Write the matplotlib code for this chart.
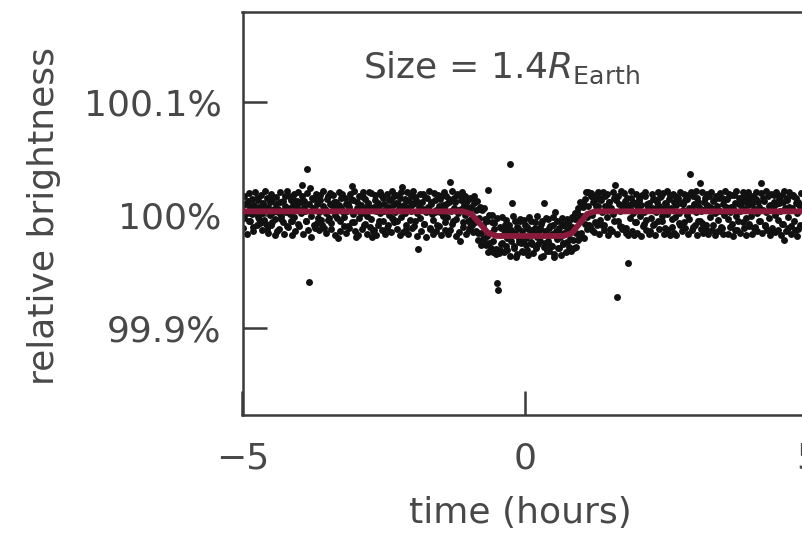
import matplotlib
matplotlib.use("Agg")
import matplotlib.pyplot as plt

# observation times, in hundredths of an hour from mid-transit (first pass)
time_cs = [
    -500, -498, -496, -493, -491, -489, -487, -484, -482, -480, -478, -475, -473, -471, -469, -466, -464, -462, -460, -457,
    -455, -452, -450, -448, -446, -443, -441, -439, -437, -434, -432, -430, -428, -425, -423, -421, -419, -416, -414, -412,
    -410, -408, -405, -403, -401, -399, -396, -394, -392, -389, -387, -385, -383, -380, -378, -376, -373, -371, -369, -367,
    -365, -363, -361, -358, -356, -354, -352, -349, -347, -345, -343, -340, -338, -336, -334, -331, -329, -327, -325, -322,
    -320, -317, -315, -313, -311, -308, -306, -304, -302, -299, -297, -295, -293, -290, -288, -286, -284, -281, -279, -277,
    -275, -273, -270, -268, -266, -264, -261, -259, -257, -254, -252, -250, -248, -245, -243, -241, -238, -236, -234, -232,
    -230, -228, -226, -223, -221, -219, -217, -214, -212, -210, -208, -205, -203, -201, -199, -196, -194, -192, -190, -187,
    -185, -182, -180, -178, -176, -173, -171, -169, -167, -164, -162, -160, -158, -155, -153, -151, -149, -146, -144, -142,
    -140, -138, -135, -133, -131, -129, -126, -124, -122, -119, -117, -115, -113, -110, -108, -106, -103, -101, -99, -97,
    -95, -93, -91, -88, -86, -84, -82, -79, -77, -75, -73, -70, -68, -66, -64, -61, -59, -57, -55, -52,
    -50, -47, -45, -43, -41, -38, -36, -34, -32, -29, -27, -25, -23, -20, -18, -16, -14, -11, -9, -7,
    -5, -3, 0, 2, 4, 6, 9, 11, 13, 16, 18, 20, 22, 25, 27, 29, 32, 34, 36, 38,
    40, 42, 44, 47, 49, 51, 53, 56, 58, 60, 62, 65, 67, 69, 71, 74, 76, 78, 80, 83,
    85, 88, 90, 92, 94, 97, 99, 101, 103, 106, 108, 110, 112, 115, 117, 119, 121, 124, 126, 128,
    130, 132, 135, 137, 139, 141, 144, 146, 148, 151, 153, 155, 157, 160, 162, 164, 167, 169, 171, 173,
    175, 177, 179, 182, 184, 186, 188, 191, 193, 195, 197, 200, 202, 204, 206, 209, 211, 213, 215, 218,
    220, 223, 225, 227, 229, 232, 234, 236, 238, 241, 243, 245, 247, 250, 252, 254, 256, 259, 261, 263,
    265, 267, 270, 272, 274, 276, 279, 281, 283, 286, 288, 290, 292, 295, 297, 299, 302, 304, 306, 308,
    310, 312, 314, 317, 319, 321, 323, 326, 328, 330, 332, 335, 337, 339, 341, 344, 346, 348, 350, 353,
    355, 358, 360, 362, 364, 367, 369, 371, 373, 376, 378, 380, 382, 385, 387, 389, 391, 394, 396, 398,
    400, 402, 405, 407, 409, 411, 414, 416, 418, 421, 423, 425, 427, 430, 432, 434, 437, 439, 441, 443,
    445, 447, 449, 452, 454, 456, 458, 461, 463, 465, 467, 470, 472, 474, 476, 479, 481, 483, 485, 488,
]

# brightness offset from 100%, in parts per million (first pass)
flux_ppm = [
    40, -35, 95, 10, 120, -60, 55, 5, -110, 80, 30, 150, -20, 65, -75, 15, 100, -45, 45, -130,
    70, 0, -90, 135, 25, -40, 90, -150, 50, 110, -15, 35, -70, 160, 20, -105, 60, 5, 125, -55,
    85, -25, 45, 120, -80, 115, 15, 261, 70, 30, -60, 403, -597, 235, -10, 140, -95, 40, 95, -35,
    20, 130, -45, 75, -120, 50, 10, 165, -30, 95, -75, 40, 110, -5, 60, -208, 85, -60, 145, 25,
    -20, 90, 35, -100, 70, 140, 252, 5, -65, -199, 115, 45, -35, 80, 10, 155, -85, 60, -10, 100,
    55, -40, -199, -137, 125, 30, -90, 75, 15, 170, -55, 95, 40, -115, 65, 0, 135, -30, 85, -70,
    20, 105, -60, 50, 145, -25, 243, 80, 10, -130, 60, 120, -45, 35, 90, -100, 155, 15, -305, 70,
    -35, 110, 45, -80, 20, 150, 65, -120, 95, 5, -50, 130, 40, -95, 75, 25, 165, -15, 60, -140,
    90, -20, 140, 288, 35, -85, 60, 110, -40, 15, 170, -235, 50, -70, 80, -5, 120, -60, 30, -110,
    65, -97, 102, -65, 39, -167, -29, 64, -167, -89, -220, -42, -188, 217, -252, -162, -70, -238, -127, -307,
    -606, -668, -314, -120, -250, -170, -95, -280, -210, -140, 447, -230, 102, -300, -165, -376, -110, -215, -60, -255,
    -150, -240, -95, -205, -310, -130, -185, -60, -260, -175, -115, -290, -200, -140, -230, -85, -367, 102, -250, -160,
    -230, -120, -270, -175, -90, -376, 22, -215, -145, -300, -195, -80, -250, -160, -105, -240, -130, -60, -215, -110,
    -222, -43, -161, 22, -226, -17, -164, -17, 101, -80, 199, -25, 78, -104, 166, -1, 107, -62, 73, 138,
    75, -50, 130, 20, -95, 160, 45, -25, 110, -130, 55, 5, 145, 261, -730, -60, 90, 30, -110, 65,
    40, 120, -164, -429, 85, -35, 150, 10, -177, 95, -70, 60, 130, -15, 80, -100, 25, 165, -45, 70,
    100, -30, 55, 140, -85, 20, 115, -55, 75, 160, -10, 45, -120, 95, 5, 135, -181, 60, -40, 110,
    -25, 80, 150, 15, -90, 105, 40, -65, 125, 0, 170, -40, 358, 55, -110, 90, 20, 145, -60, 70,
    279, 30, -75, 115, 50, -130, 85, 160, -20, 60, -95, 130, 10, 75, -50, 145, 35, -115, 95, 0,
    65, 140, -40, 20, 175, -85, 55, 105, -10, -140, 90, 30, 150, -65, 45, 120, -30, 80, -100, 160,
    -15, 95, 50, -110, 135, 10, 70, -55, 279, 40, 120, -90, 25, 165, -35, 85, -140, 60, 110, -5,
    90, -45, 135, 30, -80, 115, -226, 55, 150, -20, 70, -105, 40, 160, -60, 100, 15, -130, 85, 45,
]

# second pass of observations, interleaved with the first
time_cs_b = [
    -499, -497, -495, -492, -490, -488, -486, -483, -481, -479, -477, -474, -472, -470, -468, -465, -463, -461, -459, -456,
    -454, -451, -449, -447, -445, -442, -440, -438, -436, -433, -431, -429, -427, -424, -422, -420, -418, -415, -413, -411,
    -409, -407, -404, -402, -400, -398, -395, -393, -391, -388, -386, -384, -382, -379, -377, -375, -372, -370, -368, -366,
    -364, -362, -360, -357, -355, -353, -351, -348, -346, -344, -342, -339, -337, -335, -333, -330, -328, -326, -324, -321,
    -319, -316, -314, -312, -310, -307, -305, -303, -301, -298, -296, -294, -292, -289, -287, -285, -283, -280, -278, -276,
    -274, -272, -269, -267, -265, -263, -260, -258, -256, -253, -251, -249, -247, -244, -242, -240, -237, -235, -233, -231,
    -229, -227, -225, -222, -220, -218, -216, -213, -211, -209, -207, -204, -202, -200, -198, -195, -193, -191, -189, -186,
    -184, -181, -179, -177, -175, -172, -170, -168, -166, -163, -161, -159, -157, -154, -152, -150, -148, -145, -143, -141,
    -139, -137, -134, -132, -130, -128, -125, -123, -121, -118, -116, -114, -112, -109, -107, -105, -102, -100, -98, -96,
    -94, -92, -90, -87, -85, -83, -81, -78, -76, -74, -72, -69, -67, -65, -63, -60, -58, -56, -54, -51,
    -49, -46, -44, -42, -40, -37, -35, -33, -31, -28, -26, -24, -22, -19, -17, -15, -13, -10, -8, -6,
    -4, -2, 1, 3, 5, 7, 10, 12, 14, 17, 19, 21, 23, 26, 28, 30, 33, 35, 37, 39,
    41, 43, 45, 48, 50, 52, 54, 57, 59, 61, 63, 66, 68, 70, 72, 75, 77, 79, 81, 84,
    86, 89, 91, 93, 95, 98, 100, 102, 104, 107, 109, 111, 113, 116, 118, 120, 122, 125, 127, 129,
    131, 133, 136, 138, 140, 142, 145, 147, 149, 152, 154, 156, 158, 161, 163, 165, 168, 170, 172, 174,
    176, 178, 180, 183, 185, 187, 189, 192, 194, 196, 198, 201, 203, 205, 207, 210, 212, 214, 216, 219,
    221, 224, 226, 228, 230, 233, 235, 237, 239, 242, 244, 246, 248, 251, 253, 255, 257, 260, 262, 264,
    266, 268, 271, 273, 275, 277, 280, 282, 284, 287, 289, 291, 293, 296, 298, 300, 303, 305, 307, 309,
    311, 313, 315, 318, 320, 322, 324, 327, 329, 331, 333, 336, 338, 340, 342, 345, 347, 349, 351, 354,
    356, 359, 361, 363, 365, 368, 370, 372, 374, 377, 379, 381, 383, 386, 388, 390, 392, 395, 397, 399,
    401, 403, 406, 408, 410, 412, 415, 417, 419, 422, 424, 426, 428, 431, 433, 435, 438, 440, 442, 444,
    446, 448, 450, 453, 455, 457, 459, 462, 464, 466, 468, 471, 473, 475, 477, 480, 482, 484, 486, 489,
]

flux_ppm_b = [
    -120, 160, 25, -175, 95, 190, -60, 140, -150, 60, 200, -95, 130, -40, 175, -140, 80, 210, -85, 150,
    -160, 110, 185, -70, 45, -185, 155, 20, -130, 195, -40, 120, -170, 75, 205, -110, 165, -55, -180, 140,
    180, -145, 70, 200, -100, 30, 165, -175, 120, -60, 190, -135, 95, -195, 150, 60, -120, 185, -75, 130,
    -140, 175, -90, 205, 40, -165, 135, -50, 190, -125, 85, 170, -180, 110, -35, 195, -150, 60, 180, -105,
    150, -160, 95, -120, 185, -70, 130, 210, -145, 55, -185, 160, 20, -130, 195, -95, 140, -170, 75, 200,
    -110, 190, -150, 65, 175, -185, 105, -60, 200, -135, 145, 35, -170, 185, -90, 125, -155, 210, -40, 160,
    175, -130, 90, -180, 200, 45, -155, 140, -95, 195, -175, 70, 165, -120, 205, -60, 130, -190, 100, 185,
    -150, 180, -85, 155, -195, 60, 205, -130, 115, -170, 190, 25, -145, 175, -100, 140, -185, 85, 195, -70,
    160, -175, 110, -140, 205, -60, 145, -190, 180, 40, -155, 125, 195, -110, 165, -170, 70, -135, 150, -40,
    149, -152, 167, -150, 118, -223, 46, -271, 37, -214, 60, -272, -59, -335, -8, -292, 0, -328, -72, -352,
    -30, -340, -110, -260, -20, -330, -150, -50, -310, -90, -370, -140, -10, -280, -60, -350, -120, -240, -40, -320,
    -330, -50, -270, -110, -360, -20, -240, -140, -340, -70, -300, -10, -260, -120, -380, -60, -290, -150, -30, -320,
    -40, -320, -100, -280, -20, -350, -150, -60, -300, -120, -360, -30, -260, -80, -330, -40, -290, -110, -320, -20,
    -296, 13, -284, 58, -209, 110, -198, 65, -207, 136, -131, 196, -90, 188, -140, 153, -159, 173, -92, 203,
    -170, 145, -90, 200, -140, 75, 185, -185, 110, 40, -150, 195, -60, 130, -175, 165, -100, 210, -130, 85,
    190, -120, 150, -180, 60, 205, -145, 115, -70, 185, -165, 135, 25, -190, 170, -85, 195, -140, 90, -175,
    -150, 180, -95, 140, -185, 65, 200, -125, 155, -60, 190, -170, 100, 210, -140, 45, 175, -110, 185, -160,
    165, -185, 120, -75, 200, -150, 90, 185, -120, 140, -170, 55, 195, -135, 160, -95, 205, -180, 115, -60,
    -130, 195, -160, 150, -90, 185, -175, 70, 200, -140, 120, -185, 165, 35, -150, 190, -110, 145, -170, 210,
    140, -170, 185, -110, 65, -190, 175, -135, 205, -60, 150, -160, 95, 195, -120, 160, -180, 200, -85, 130,
    -175, 160, -120, 195, -150, 110, -60, 190, -165, 145, -100, 205, -140, 75, -185, 180, -115, 170, -155, 200,
    185, -140, 100, -185, 170, -80, 205, -150, 130, -120, 195, -170, 60, 175, -135, 150, -190, 115, -95, 190,
]

# fitted transit model (hours, ppm)
model_t = [-5.0, -1.1, -0.95, -0.65, -0.5, 0.68, 0.83, 1.1, 1.24, 5.0]
model_ppm = [28, 28, 5, -165, -190, -190, -165, 5, 28, 28]

x_ticks = [-5, 0, 5]
x_labels = ["\u22125", "0", "5"]
y_ticks = [-1000, 0, 1000]
y_labels = ["99.9%", "100%", "100.1%"]

TEXT = "#484848"
AXIS = "#3a3a3a"

plt.rcParams["font.family"] = ["DejaVu Sans"]
plt.rcParams["mathtext.fontset"] = "dejavusans"

fig = plt.figure(figsize=(8.02, 5.39), dpi=100)
ax = fig.add_axes([242.5 / 802, 1 - 415 / 539, 565 / 802, 403 / 539])

hours = [t / 100 for t in time_cs]
hours_b = [t / 100 for t in time_cs_b]
ax.plot(hours_b, flux_ppm_b, "o", ms=5.0, color="#111111", mec="none", zorder=2)
ax.plot(hours, flux_ppm, "o", ms=5.0, color="#111111", mec="none", zorder=2)
ax.plot(model_t, model_ppm, color="#8a1a3c", lw=4.2, solid_capstyle="butt", zorder=3)

ax.set_xlim(-5, 5)
ax.set_ylim(-1774, 1792)
ax.set_xticks(x_ticks)
ax.set_xticklabels(x_labels)
ax.set_yticks(y_ticks)
ax.set_yticklabels(y_labels)

for side in ["left", "bottom", "top", "right"]:
    ax.spines[side].set_color(AXIS)
    ax.spines[side].set_linewidth(1.8)

ax.tick_params(axis="both", direction="in", length=17, width=1.8, color=AXIS,
               labelcolor=TEXT, labelsize=26)
ax.tick_params(axis="x", pad=19)
ax.tick_params(axis="y", pad=15)

ax.set_xlabel("time (hours)", fontsize=26, color=TEXT)
ax.xaxis.set_label_coords(0.491, -0.243)
ax.xaxis.label.set_va("center")
ax.set_ylabel("relative brightness", fontsize=26, color=TEXT)
ax.yaxis.set_label_coords(-0.352, 0.494)
ax.yaxis.label.set_va("center")

ax.text(0.213, 0.836, "Size = 1.4$R_{\\mathrm{Earth}}$", transform=ax.transAxes,
        fontsize=26, color=TEXT, ha="left", va="baseline")

fig.savefig("out.png", dpi=100)
